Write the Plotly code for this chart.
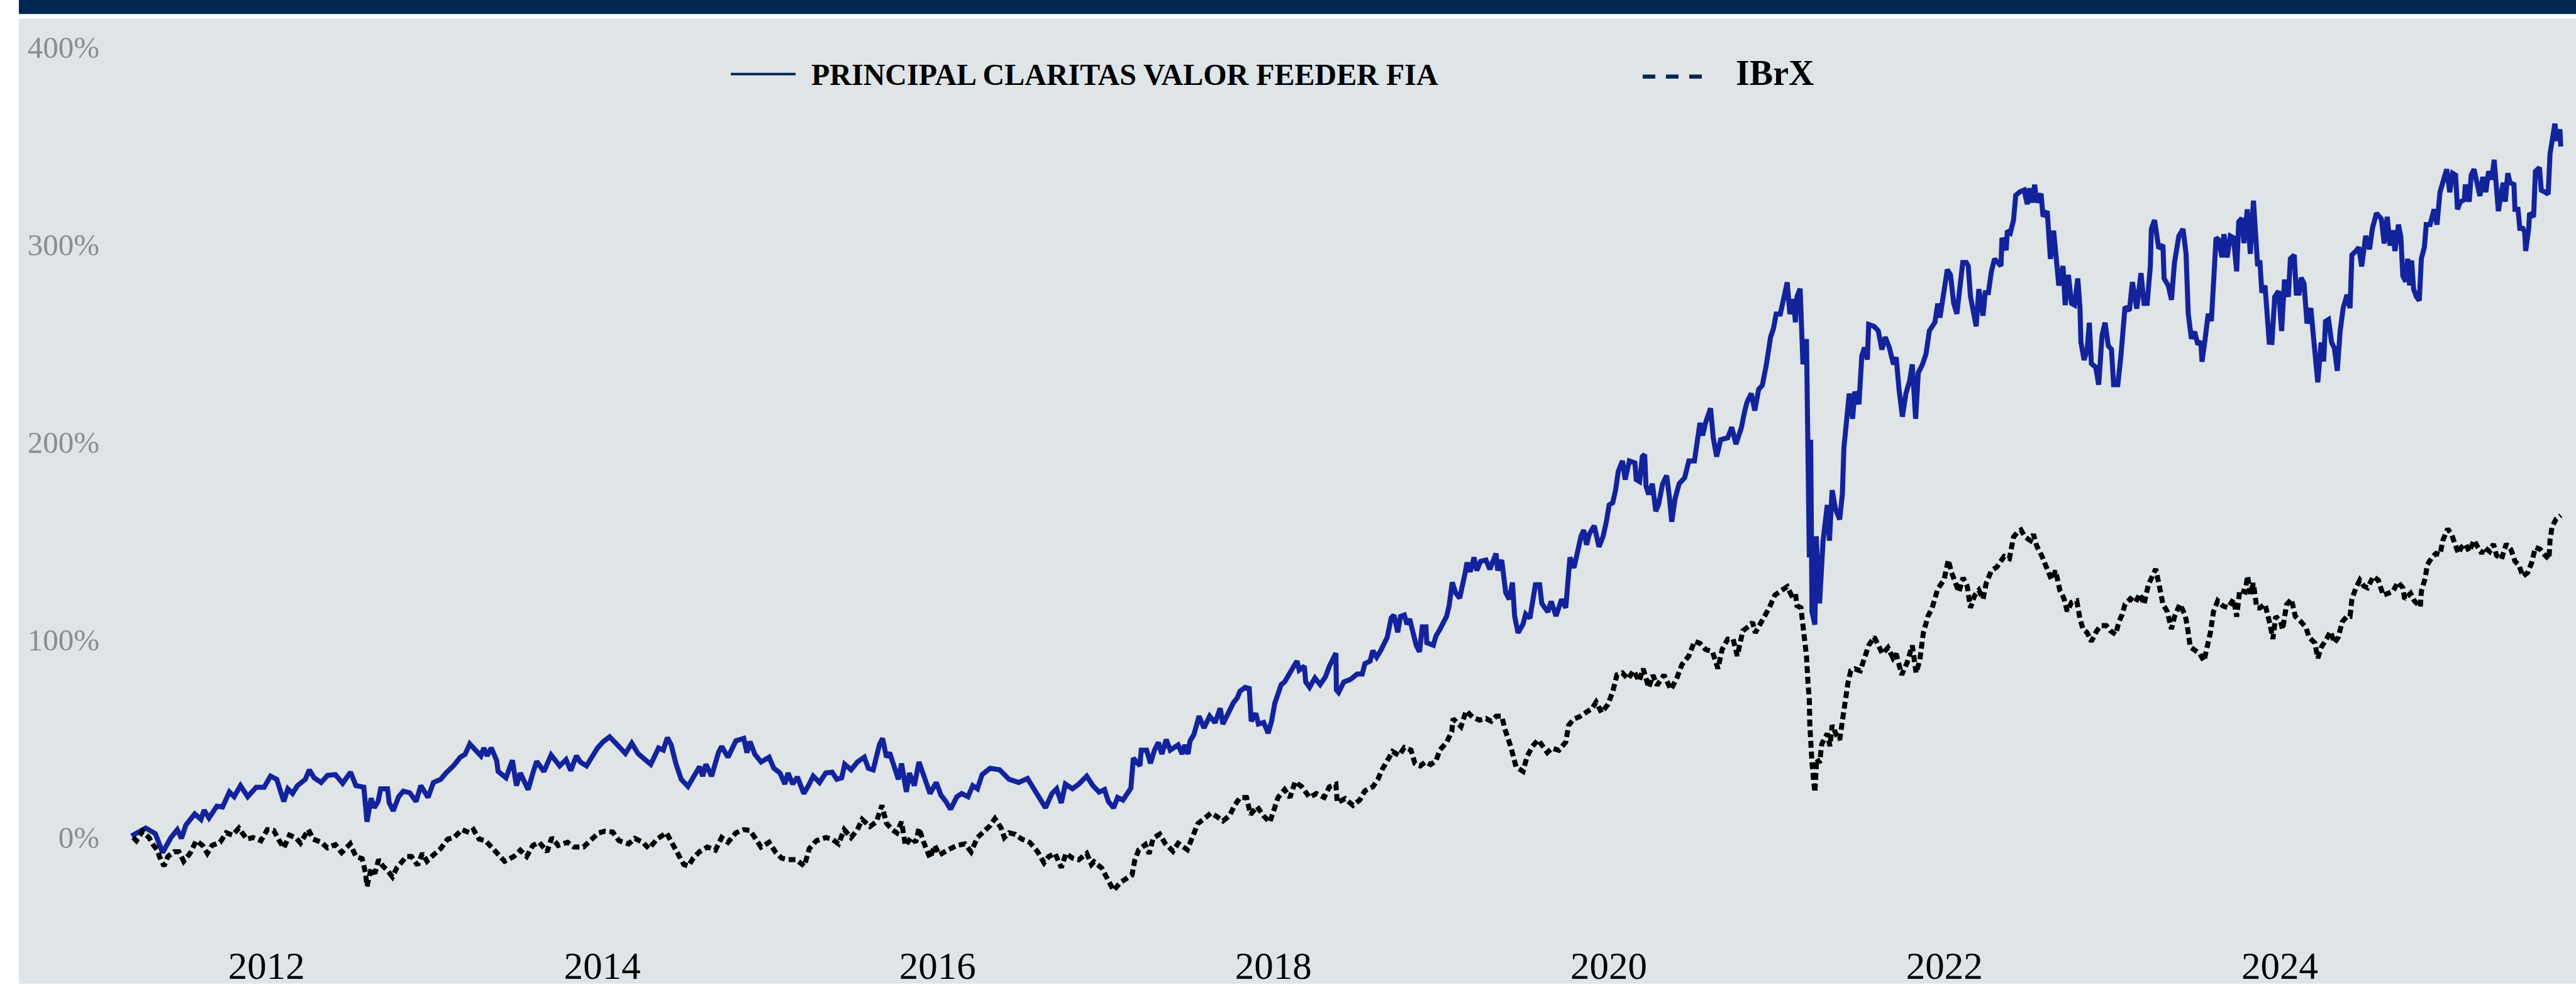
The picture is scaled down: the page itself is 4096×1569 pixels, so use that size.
import datetime as dt
import plotly.graph_objects as go

# ---------------- data (decimal years, cumulative return in %) ----------------
fund_t = [2011.195,2011.280,2011.337,2011.380,2011.430,2011.468,2011.493,2011.519,2011.572,2011.609,2011.628,2011.657,2011.704,2011.738,2011.779,2011.807,2011.845,2011.888,2011.939,2011.986,
2012.024,2012.061,2012.103,2012.127,2012.155,2012.184,2012.231,2012.255,2012.283,2012.325,2012.363,2012.410,2012.453,2012.500,2012.532,2012.579,2012.598,2012.622,2012.641,2012.664,2012.679,2012.720,2012.730,2012.754,2012.786,2012.814,2012.852,2012.890,2012.918,2012.961,2012.993,
2013.036,2013.068,2013.116,2013.153,2013.182,2013.210,2013.238,2013.276,2013.294,2013.313,2013.338,2013.370,2013.379,2013.426,2013.464,2013.488,2013.511,2013.558,2013.586,2013.609,2013.652,2013.695,2013.746,2013.784,2013.812,2013.846,2013.869,2013.906,2013.935,2013.972,
2014.006,2014.044,2014.081,2014.138,2014.176,2014.213,2014.251,2014.289,2014.336,2014.364,2014.388,2014.411,2014.439,2014.471,2014.511,2014.543,2014.580,2014.599,2014.618,2014.652,2014.693,2014.712,2014.750,2014.797,2014.844,2014.863,2014.881,2014.910,2014.947,2014.995,
2015.023,2015.060,2015.089,2015.108,2015.136,2015.164,2015.202,2015.230,2015.258,2015.296,2015.333,2015.371,2015.399,2015.428,2015.446,2015.484,2015.522,2015.563,2015.587,2015.616,2015.635,2015.653,2015.672,2015.695,2015.714,2015.748,2015.766,2015.785,2015.814,2015.832,2015.861,2015.889,2015.917,2015.955,2015.992,
2016.020,2016.049,2016.077,2016.115,2016.143,2016.181,2016.209,2016.237,2016.265,2016.312,2016.369,2016.425,2016.482,2016.535,2016.567,2016.604,2016.642,2016.680,2016.708,2016.736,2016.760,2016.802,2016.840,2016.887,2016.924,2016.961,2016.993,
2017.016,2017.047,2017.071,2017.103,2017.150,2017.165,2017.204,2017.212,2017.244,2017.267,2017.291,2017.314,2017.335,2017.361,2017.385,2017.432,2017.456,2017.471,2017.491,2017.503,2017.526,2017.542,2017.557,2017.586,2017.620,2017.652,2017.683,2017.699,2017.730,2017.761,2017.785,2017.801,2017.832,2017.856,2017.868,2017.895,2017.911,2017.942,2017.969,2017.989,
2018.009,2018.028,2018.047,2018.067,2018.091,2018.122,2018.141,2018.154,2018.185,2018.193,2018.216,2018.248,2018.279,2018.311,2018.334,2018.358,2018.373,2018.376,2018.389,2018.420,2018.460,2018.499,2018.530,2018.546,2018.577,2018.593,2018.616,2018.640,2018.664,2018.679,2018.703,2018.719,2018.742,2018.758,2018.781,2018.797,2018.813,2018.836,2018.852,2018.872,2018.888,2018.910,2018.915,2018.954,2018.970,2018.993,
2019.017,2019.033,2019.048,2019.067,2019.087,2019.111,2019.142,2019.155,2019.174,2019.197,2019.213,2019.236,2019.268,2019.291,2019.328,2019.338,2019.362,2019.386,2019.407,2019.426,2019.439,2019.459,2019.488,2019.505,2019.530,2019.546,2019.563,2019.588,2019.601,2019.637,2019.657,2019.686,2019.719,2019.744,2019.756,2019.769,2019.793,2019.810,2019.835,2019.851,2019.868,2019.884,2019.914,2019.942,2019.967,2019.986,
2020.003,2020.024,2020.041,2020.057,2020.082,2020.098,2020.123,2020.156,2020.164,2020.184,2020.200,2020.214,2020.222,2020.238,2020.260,2020.280,2020.296,2020.321,2020.345,2020.362,2020.375,2020.395,2020.419,2020.452,2020.477,2020.510,2020.527,2020.543,2020.559,2020.576,2020.606,2020.622,2020.642,2020.666,2020.708,2020.732,2020.757,2020.790,2020.807,2020.823,2020.848,2020.869,2020.892,2020.914,2020.938,2020.963,2020.980,2020.996,
2021.021,2021.040,2021.062,2021.078,2021.100,2021.111,2021.120,2021.139,2021.156,2021.177,2021.186,2021.194,2021.202,2021.210,2021.227,2021.235,2021.255,2021.276,2021.301,2021.314,2021.330,2021.350,2021.375,2021.391,2021.400,2021.420,2021.432,2021.452,2021.465,2021.490,2021.507,2021.523,2021.540,2021.548,2021.581,2021.605,2021.627,2021.647,2021.671,2021.696,2021.712,2021.729,2021.749,2021.770,2021.792,2021.808,2021.828,2021.844,2021.869,2021.890,2021.910,2021.943,2021.960,2021.973,2021.992,
2022.017,2022.036,2022.055,2022.074,2022.092,2022.109,2022.130,2022.142,2022.155,2022.174,2022.189,2022.205,2022.230,2022.243,2022.262,2022.280,2022.299,2022.337,2022.343,2022.368,2022.375,2022.393,2022.412,2022.425,2022.450,2022.475,2022.494,2022.506,2022.525,2022.538,2022.550,2022.576,2022.588,2022.613,2022.632,2022.651,2022.670,2022.682,2022.707,2022.720,2022.739,2022.758,2022.776,2022.795,2022.808,2022.814,2022.833,2022.851,2022.864,2022.876,2022.902,2022.920,2022.940,2022.958,2022.977,2022.996,
2023.009,2023.034,2023.052,2023.063,2023.077,2023.103,2023.121,2023.147,2023.172,2023.190,2023.209,2023.228,2023.234,2023.253,2023.278,2023.303,2023.310,2023.335,2023.354,2023.372,2023.398,2023.423,2023.441,2023.454,2023.473,2023.492,2023.511,2023.529,2023.536,2023.555,2023.573,2023.592,2023.605,2023.620,2023.636,2023.655,2023.667,2023.686,2023.705,2023.724,2023.743,2023.755,2023.774,2023.786,2023.806,2023.824,2023.843,2023.856,2023.868,2023.881,2023.893,2023.912,2023.925,2023.937,2023.953,2023.970,2023.993,
2024.011,2024.028,2024.051,2024.063,2024.086,2024.098,2024.115,2024.127,2024.144,2024.162,2024.185,2024.197,2024.208,2024.226,2024.246,2024.261,2024.272,2024.290,2024.308,2024.325,2024.342,2024.359,2024.377,2024.400,2024.418,2024.429,2024.453,2024.470,2024.487,2024.499,2024.511,2024.534,2024.551,2024.575,2024.604,2024.621,2024.639,2024.656,2024.673,2024.685,2024.706,2024.720,2024.732,2024.749,2024.761,2024.772,2024.784,2024.796,2024.813,2024.830,2024.842,2024.860,2024.871,2024.894,2024.918,2024.935,2024.953,2024.976,2024.993,
2025.011,2025.028,2025.046,2025.057,2025.075,2025.098,2025.104,2025.127,2025.139,2025.156,2025.173,2025.191,2025.208,2025.226,2025.243,2025.261,2025.276,2025.290,2025.301,2025.319,2025.330,2025.342,2025.357,2025.371,2025.394,2025.400,2025.418,2025.429,2025.447,2025.458,2025.464,2025.482,2025.487,2025.511,2025.522,2025.546,2025.557,2025.580,2025.598,2025.609,2025.621,2025.638,2025.650,2025.668,2025.673]
fund_v = [0.5,4.5,1.7,-7.9,-0.3,3.7,-0.7,6,11.7,8.9,13.6,9.6,15.6,15.2,22.8,20.4,26,20.4,25.2,25.2,
30.8,29.2,18,24.4,22,26,29.2,34,30,27.6,31.2,31.6,27.2,32.8,26,25.2,7.7,19.6,14.8,18,24.4,24.4,17.3,13.2,20.4,23.2,22.4,18,26,20,27.6,
29.2,32.4,36.4,40.4,41.9,47.1,44.4,41.1,45.1,41.1,45.1,38.8,33.2,30,38.8,26,32.4,24,32.4,38.3,33.2,41.5,36,39.2,33.6,41.1,38,36,40,45.1,
48.3,50.7,47.5,42.3,47.5,42.3,39.5,36.8,45.1,44,50.3,46.7,37.2,29.2,25.6,30.8,35.6,30.8,36.8,30.8,42.7,45.9,40.4,48.7,49.9,42.7,48.3,41.9,38,40.4,
34.8,32.4,26.8,32.4,26.8,30.4,22,26,30.8,27.6,32.4,32.8,29.2,30,36.8,34,38,40.4,34.8,34,40.4,46.7,49.9,40.4,42.7,34,29.2,37.2,22.8,32.4,26,38,30.8,22,27.6,
21.2,18,14,20.4,22,20.4,26,24.4,31.6,34.8,34,29.2,27.6,29.6,25.2,21.2,14.8,22,24.4,17.2,26.8,24.4,26.8,30.8,26,22.7,24,
18,14.7,20,18.7,24.7,40,36,44,44,37.3,44,47.9,42,49.3,44,46.6,42,46.6,42,48.6,51.9,57.2,61.2,55.2,61.2,57.9,65.2,57.2,62.6,67.9,70.5,73.8,75.8,75.2,58.6,62.6,57.2,58,52.6,58.6,
67.9,73.2,77.2,78.5,82.5,86.5,89.1,84.5,86.5,78.5,75.8,80.5,77.2,81.2,86.5,91.1,93.1,74.5,73.2,78.5,79.8,82.5,82.5,87.8,89.1,94.4,91.1,94.4,98.4,101.1,111,112.4,103.7,111.7,112.4,107.7,110.4,102.4,97.1,93.8,106.4,106.4,98.4,97.1,101.8,105.1,
109.1,111.7,117,129,123.7,121,133,139,134.3,141.6,135,139.6,140.3,135.6,143.6,135,140.3,123.7,120.4,128.9,111.9,103.4,107.6,112.9,110.8,120.4,127.8,127.8,118.3,114,119.3,111.9,120.4,116.1,131,141.6,136.3,143.8,152.3,155.5,148,153.4,157.6,147,152.3,159.7,
168.2,169.3,175.7,185.2,190.5,181,190.5,189.5,181,180,192.7,193.7,177.8,173.5,178.9,165,168.2,178.9,183.1,171.4,159.7,171.4,178.9,182,190.5,190.5,203.3,209.7,203.3,209.7,217.1,202.2,192.7,201.2,202.2,207.5,199,207.5,215,220.3,224.6,216,226.7,228.8,239.4,253.2,257.5,264.9,
264.9,271.3,280.9,264.9,272.4,260.7,273.5,277.7,239.4,252.2,182,141.6,201.2,114,107.6,152.3,118.3,150.1,168.2,150.1,175.7,166.1,160.8,173.5,196.9,213.9,224.6,211.8,225.6,219.2,243.7,247.9,241.8,259.6,258.6,256.4,246.9,253.2,247.9,239.4,243,226.7,212.9,224.6,230.9,239.4,211.8,235.2,239.4,244.7,256.4,260.7,270.2,263.1,274.8,
287.4,284.7,270.3,265,279.3,291,291,289.2,273.9,263.1,258.7,277.5,264,275.7,275.7,286.5,292.8,289.2,303.5,297.2,307.1,306,312.5,325,326.8,327.7,320.5,328.6,321.4,330.4,321.4,325.9,314.3,317,292.8,307.1,292.8,279.3,289.2,269.4,284.7,270.3,269.4,282.9,268.5,250.6,241.6,247,260.5,239.8,238,229.1,254.2,260.5,248.8,247,
229.1,229.1,243.4,253.3,268.5,266.6,281.1,267.6,285.6,270.3,270.3,289.2,308,312.5,298.1,299.9,282.9,279.3,272.1,291,304.4,308,295.4,265,252.4,256,249.5,251,240.7,252.4,265,261.4,277.5,303.5,302.5,293.6,305.3,293.6,304.4,303.5,286.5,311.6,313.4,300.8,317.9,295.4,322.3,308,289.2,292,275.7,279.3,265.8,250.6,250.5,273.6,276.5,
256.3,282.3,273.6,292.9,294.8,275.5,275.5,283.3,280.4,260.1,267.9,256.3,244.7,230.3,250.5,240.9,261.1,262.1,250.5,247.6,236.1,256.3,267.9,274.6,267.9,294.8,296.8,298.7,289,299.6,304.5,297.7,308.3,316,313.1,300.6,314.1,299.6,307.3,296.8,310.2,304,284.2,281.3,292.9,279.4,292,277.5,273.6,271.7,292.9,298.7,310.2,310.2,317.9,310.2,326.6,333.4,338.2,
326.6,336.2,335.2,317.9,321.8,322.8,330.5,321.8,335.3,338.2,331.4,324.7,334.3,326.6,337.2,333,343,325.6,317,326.6,331.4,321.8,336.2,331.4,330.5,317.9,317.9,308.3,308.3,306.4,296.8,308.3,316,314.1,337.2,339.1,327.6,326.6,325.6,345.9,354.5,361.3,352.6,358.4,349.7]

ibrx_t = [2011.205,2011.224,2011.261,2011.299,2011.327,2011.346,2011.369,2011.389,2011.412,2011.449,2011.478,2011.506,2011.544,2011.581,2011.619,2011.647,2011.675,2011.723,2011.760,2011.798,2011.835,2011.882,2011.920,2011.967,
2012.005,2012.043,2012.076,2012.103,2012.137,2012.174,2012.202,2012.249,2012.278,2012.325,2012.362,2012.410,2012.447,2012.498,2012.532,2012.569,2012.588,2012.598,2012.622,2012.645,2012.667,2012.692,2012.720,2012.749,2012.777,2012.805,2012.833,2012.862,2012.899,2012.927,2012.955,2012.993,
2013.036,2013.078,2013.116,2013.163,2013.210,2013.232,2013.266,2013.304,2013.332,2013.370,2013.417,2013.473,2013.511,2013.549,2013.586,2013.624,2013.671,2013.699,2013.737,2013.793,2013.831,2013.888,2013.935,2013.978,
2014.016,2014.062,2014.100,2014.157,2014.194,2014.241,2014.279,2014.326,2014.383,2014.420,2014.448,2014.486,2014.514,2014.543,2014.580,2014.627,2014.675,2014.712,2014.750,2014.797,2014.844,2014.881,2014.910,2014.947,2014.995,
2015.032,2015.070,2015.108,2015.155,2015.205,2015.235,2015.277,2015.333,2015.371,2015.409,2015.443,2015.484,2015.522,2015.550,2015.597,2015.635,2015.653,2015.668,2015.695,2015.729,2015.757,2015.785,2015.808,2015.842,2015.870,2015.889,2015.917,2015.955,2015.983,
2016.011,2016.058,2016.115,2016.162,2016.199,2016.237,2016.284,2016.312,2016.341,2016.378,2016.397,2016.425,2016.463,2016.501,2016.548,2016.595,2016.633,2016.661,2016.698,2016.736,2016.764,2016.802,2016.840,2016.887,2016.915,2016.930,2016.977,
2017.008,2017.047,2017.087,2017.126,2017.157,2017.173,2017.197,2017.236,2017.259,2017.283,2017.322,2017.354,2017.401,2017.432,2017.487,2017.518,2017.550,2017.589,2017.628,2017.667,2017.699,2017.738,2017.769,2017.801,2017.840,2017.864,2017.903,2017.942,2017.978,
2018.005,2018.028,2018.067,2018.099,2018.130,2018.170,2018.216,2018.256,2018.303,2018.334,2018.373,2018.381,2018.428,2018.475,2018.515,2018.546,2018.593,2018.624,2018.648,2018.679,2018.711,2018.750,2018.781,2018.821,2018.844,2018.876,2018.907,2018.938,2018.970,2018.993,
2019.033,2019.064,2019.072,2019.103,2019.119,2019.150,2019.189,2019.229,2019.268,2019.299,2019.330,2019.362,2019.381,2019.415,2019.448,2019.489,2019.513,2019.546,2019.579,2019.634,2019.662,2019.703,2019.744,2019.761,2019.793,2019.826,2019.901,2019.925,2019.958,2019.996,
2020.024,2020.049,2020.082,2020.115,2020.148,2020.181,2020.205,2020.238,2020.263,2020.288,2020.329,2020.370,2020.403,2020.436,2020.477,2020.510,2020.543,2020.576,2020.617,2020.650,2020.675,2020.708,2020.740,2020.765,2020.798,2020.831,2020.856,2020.872,2020.914,2020.955,2020.988,
2021.029,2021.062,2021.087,2021.111,2021.120,2021.144,2021.161,2021.177,2021.186,2021.194,2021.197,2021.202,2021.210,2021.218,2021.227,2021.238,2021.255,2021.268,2021.301,2021.317,2021.330,2021.358,2021.375,2021.391,2021.408,2021.424,2021.441,2021.465,2021.498,2021.523,2021.548,2021.581,2021.614,2021.630,2021.663,2021.693,2021.712,2021.745,2021.778,2021.808,2021.831,2021.853,2021.874,2021.902,2021.927,2021.960,2021.998,
2022.023,2022.042,2022.067,2022.086,2022.111,2022.136,2022.155,2022.180,2022.205,2022.230,2022.249,2022.280,2022.312,2022.356,2022.387,2022.412,2022.437,2022.456,2022.481,2022.513,2022.531,2022.550,2022.582,2022.607,2022.638,2022.663,2022.688,2022.713,2022.732,2022.758,2022.789,2022.808,2022.826,2022.851,2022.876,2022.908,2022.933,2022.965,2022.990,
2023.021,2023.040,2023.059,2023.077,2023.109,2023.140,2023.165,2023.190,2023.216,2023.241,2023.260,2023.278,2023.303,2023.328,2023.354,2023.372,2023.404,2023.435,2023.448,2023.466,2023.492,2023.523,2023.548,2023.567,2023.586,2023.605,2023.630,2023.661,2023.692,2023.724,2023.743,2023.761,2023.793,2023.808,2023.824,2023.843,2023.862,2023.881,2023.912,2023.941,2023.959,2023.976,
2024.005,2024.017,2024.040,2024.069,2024.092,2024.127,2024.156,2024.174,2024.208,2024.226,2024.249,2024.278,2024.301,2024.325,2024.348,2024.371,2024.400,2024.418,2024.429,2024.453,2024.476,2024.499,2024.522,2024.557,2024.586,2024.615,2024.639,2024.673,2024.703,2024.732,2024.743,2024.778,2024.801,2024.836,2024.842,2024.865,2024.877,2024.906,2024.929,2024.953,2024.970,2024.999,
2025.022,2025.046,2025.063,2025.080,2025.104,2025.127,2025.156,2025.179,2025.202,2025.220,2025.249,2025.272,2025.290,2025.319,2025.348,2025.377,2025.400,2025.423,2025.447,2025.476,2025.499,2025.522,2025.551,2025.580,2025.603,2025.609,2025.621,2025.644,2025.673]
ibrx_v = [-0.3,-1.9,2.9,-0.3,-4.3,-6.3,-11.5,-14.7,-9.9,-7.5,-7.5,-12.3,-8.3,-1.9,-4.3,-8.3,-4.3,-2.7,2.1,0.9,4.5,-1.1,-0.3,-1.9,
3.7,3.3,-1.9,-5.5,0.9,-0.3,-3.1,3.7,-1.1,-2.7,-5.5,-3.9,-7.9,-3.5,-9.9,-11,-17.8,-25,-16.3,-18.5,-11.5,-14.7,-17,-20.2,-15.4,-12.3,-9.9,-9.9,-14.3,-8.3,-12.3,-9.1,
-5.9,-1.1,-0.3,3.7,2.1,3.7,-1.1,-1.9,-4.3,-8.3,-12.3,-9.9,-6.7,-9.9,-4.3,-2.7,-7.5,-0.3,-4.3,-2.7,-5.1,-5.1,-1.1,2.1,
2.9,2.5,-1.9,-3.5,-0.7,-2.7,-5.9,-1.1,2.1,-3.5,-8.3,-13.9,-14.7,-10.7,-7.5,-5.1,-6.7,-0.3,-2.7,2.1,3.7,3.3,-0.3,-5.1,-2.7,
-7.5,-10.7,-11.5,-11.5,-14.7,-5.9,-1.9,-0.3,-1.1,-3.5,3.7,-0.3,3.7,8.9,5.3,7.7,13.2,16,7,3.7,2.1,7.7,-4.3,-0.3,-2.7,4.5,-2.7,-10.7,-4.3,
-9.1,-6.7,-4.3,-3.5,-7.5,-0.3,3.7,5.7,9.3,4.5,-0.3,2.1,1.3,-1.1,-2.7,-7.5,-13.1,-9.9,-8.3,-15.5,-8.3,-10.7,-11.5,-8.3,-13.9,-12.5,-15.8,
-21.1,-27.1,-23.1,-21.1,-19.2,-11.9,-6.5,-3.9,-8.5,-0.6,1.4,-3.2,-7.2,-3.2,-6.5,0.1,6.8,9.4,12.1,10.1,8.1,10.7,16,20,20,11.4,15.4,10.7,7.4,
14.1,20,24,20,28,25.4,20,22,20,25.4,26.7,17.4,19.4,16,18.7,23.4,25.4,29.3,34,38.6,43.3,41.3,45.3,44,37.3,36,38,36.7,38.6,44,
47.9,53.3,59.9,57.3,55.9,63.9,60.6,59.2,60,58.6,61.2,61.2,54.6,46,35.4,33.2,40.7,46,49.2,42.8,45,43.9,48.1,56.6,59.8,60.9,65.1,68.3,63,67.2,
73.6,82.1,83.1,80,84.2,79,85.2,75.7,82,76.8,82.1,74.7,80,87.4,91.7,99.1,98.1,95,93.8,85.3,95,100.2,100.2,91.7,104.4,106.6,108.7,103.4,109.8,116.1,122.5,
124.6,126.8,122.5,123.5,117.2,116.1,103.4,91.7,77.9,69.4,56.6,41.7,37.5,30,22.6,39.6,37.5,47,52.4,46,56.6,51.3,49.2,58.7,69.4,77.9,84.2,85.2,84.2,90.6,97,101.3,95.9,92.8,95.9,90.6,92.8,82.1,88.5,97,83.1,89.6,103.4,111.9,116.1,125.7,130.4,
140.3,134,128.6,124.1,131.3,126.9,116.1,122.3,125,120.5,128.6,134.9,136.7,142.1,141,151.9,154.6,155.5,151.9,150.1,153.3,147.5,142.1,136.7,130.4,134.9,125,120.7,114.3,118.8,119.6,110.7,105.3,103.5,99,104.4,107.1,107.1,104.4,
102.6,108.9,112.5,117.9,120.7,118.8,123.2,117.9,127.7,133.1,135.8,128.6,117.9,114.3,105.3,111.6,117.9,112.5,107.1,96.3,94.5,92.7,89.1,96.3,103.5,114.3,119.6,117,116.1,120.5,111.6,125,124.1,132.2,123.2,128.6,116.1,116,117.9,108,100.3,111.8,
108.9,105.1,117.6,120.5,111.8,108.9,106,101.2,98.3,90.6,96.4,100.3,104.1,98.3,101.2,108.9,111.8,111.8,120.5,126.2,130.1,127.2,126.2,132,130.1,122.4,123.4,124.4,129.1,126.2,120.5,123.4,119.5,116.6,124.4,131.1,137.8,141.7,143.6,143,150.3,156.1,
153.2,148.4,143.6,146.7,148.4,144.6,150.3,146.7,143.6,146.7,144.6,148.4,142.6,140.7,148.4,145.5,139.7,137.8,132,133.9,138.8,146.7,145.7,142.6,140.7,150.3,157.1,160.9,162.9]

series_names = ["PRINCIPAL CLARITAS VALOR FEEDER FIA", "IBrX"]
y_ticks = [0, 100, 200, 300, 400]
y_tick_labels = ["0%", "100%", "200%", "300%", "400%"]
x_tick_years = [2012, 2014, 2016, 2018, 2020, 2022, 2024]
x_range_years = [2011.0295, 2025.764]
y_range = [-52.1, 414.4]


def to_date(y):
    yr = int(y)
    start = dt.datetime(yr, 1, 1)
    days = (dt.datetime(yr + 1, 1, 1) - start).total_seconds()
    return start + dt.timedelta(seconds=(y - yr) * days)


# ---------------- layout geometry (output px) ----------------
W, H = 4096, 1569
ML, MR, MT, MB = 165, 0, 30, 70
PW, PH = W - ML - MR, H - MT - MB


def px_x(px):
    return (px - ML) / PW


def px_y(py):
    return (H - MB - py) / PH


GREY = "#DFE4E7"
NAVY = "#002852"
FUND_BLUE = "#13239C"
SERIF = "Liberation Serif, Times New Roman, serif"

fig = go.Figure()
fig.add_trace(go.Scatter(
    x=[to_date(t) for t in fund_t], y=fund_v, mode="lines", name=series_names[0],
    line=dict(color=FUND_BLUE, width=8), showlegend=False, hoverinfo="skip"))
fig.add_trace(go.Scatter(
    x=[to_date(t) for t in ibrx_t], y=ibrx_v, mode="lines", name=series_names[1],
    line=dict(color="#000000", width=8, dash="11px,6px"), showlegend=False, hoverinfo="skip"))

shapes = [
    # grey panel (everything except white left strip and thin top strip)
    dict(type="rect", xref="paper", yref="paper", x0=px_x(30), x1=px_x(W), y0=px_y(H), y1=px_y(29.5),
         fillcolor=GREY, line=dict(width=0), layer="below"),
    # dark header bar
    dict(type="rect", xref="paper", yref="paper", x0=px_x(30), x1=px_x(W), y0=px_y(22.3), y1=px_y(-2),
         fillcolor=NAVY, line=dict(width=0), layer="above"),
    # legend samples
    dict(type="line", xref="paper", yref="paper", x0=px_x(1162), x1=px_x(1265), y0=px_y(118), y1=px_y(118),
         line=dict(color=NAVY, width=4)),
    dict(type="line", xref="paper", yref="paper", x0=px_x(2612), x1=px_x(2706), y0=px_y(122), y1=px_y(122),
         line=dict(color=NAVY, width=6.5, dash="20px,17px")),
]

annotations = [
    dict(xref="paper", yref="paper", x=px_x(1288), y=px_y(119), xanchor="left", yanchor="middle",
         text="<b>" + series_names[0] + "</b>", showarrow=False,
         font=dict(family=SERIF, size=48, color="#000000")),
    dict(xref="paper", yref="paper", x=px_x(2758), y=px_y(116), xanchor="left", yanchor="middle",
         text="<b>" + series_names[1] + "</b>", showarrow=False,
         font=dict(family=SERIF, size=56, color="#000000")),
]

fig.update_layout(
    width=W, height=H,
    margin=dict(l=ML, r=MR, t=MT, b=MB, pad=0),
    paper_bgcolor="#FFFFFF", plot_bgcolor=GREY,
    shapes=shapes, annotations=annotations,
    showlegend=False,
    xaxis=dict(
        type="date",
        range=[to_date(x_range_years[0]), to_date(x_range_years[1])],
        tickmode="array",
        tickvals=[dt.datetime(y, 1, 1) for y in x_tick_years],
        ticktext=[str(y) for y in x_tick_years],
        showgrid=False, zeroline=False, showline=False, ticks="",
        tickfont=dict(family=SERIF, size=61, color="#000000"),
    ),
    yaxis=dict(
        range=y_range,
        tickmode="array",
        tickvals=y_ticks,
        ticktext=y_tick_labels,
        showgrid=False, zeroline=False, showline=False, ticks="",
        tickfont=dict(family=SERIF, size=49, color="#8C8C8C"),
        ticklabelstandoff=6,
    ),
)

fig.write_html(
    "out.html",
    config={"displayModeBar": False},
    post_script="document.body.style.margin='0';document.body.style.overflow='hidden';",
)
